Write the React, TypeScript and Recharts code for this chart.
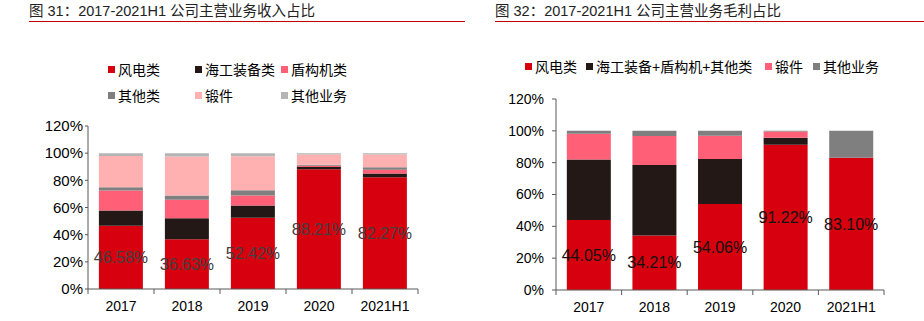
import React from 'react';
import { BarChart, Bar, XAxis, YAxis, LabelList } from 'recharts';

const years = ['2017', '2018', '2019', '2020', '2021H1'];

// Left: revenue share (%)
const windRev = [46.58, 36.63, 52.42, 88.21, 82.27];
const offshoreRev = [11.3, 15.5, 9.1, 1.6, 2.8];
const shieldRev = [14.6, 13.6, 7.3, 1.0, 2.8];
const otherTypeRev = [2.5, 3.1, 3.9, 0.6, 1.7];
const forgingRev = [23.0, 28.7, 25.0, 7.6, 9.5];
const otherBizRev = [2.02, 2.47, 2.28, 0.99, 0.93];

// Right: gross profit share (%)
const windGp = [44.05, 34.21, 54.06, 91.22, 83.1];
const offshoreShieldOtherGp = [37.95, 44.3, 28.3, 4.5, 0];
const forgingGp = [16.2, 18.2, 14.6, 3.8, 0];
const otherBizGp = [1.8, 3.29, 3.04, 0.48, 16.9];

const yTicks = [0, 20, 40, 60, 80, 100, 120];

const C_RED = '#D7000F';
const C_BLACK = '#231815';
const C_PINK = '#FF6077';
const C_GRAY = '#7F7F7F';
const C_LPINK = '#FFB1B1';
const C_LGRAY = '#B4B4B4';

const FONT = '"Liberation Sans", Arial, "Noto Sans CJK SC", sans-serif';

const leftData = years.map((y, i) => ({
  year: y,
  wind: windRev[i],
  offshore: offshoreRev[i],
  shield: shieldRev[i],
  otherType: otherTypeRev[i],
  forging: forgingRev[i],
  otherBiz: otherBizRev[i],
}));

const rightData = years.map((y, i) => ({
  year: y,
  wind: windGp[i],
  offshore: offshoreShieldOtherGp[i],
  forging: forgingGp[i],
  otherBiz: otherBizGp[i],
}));

const makeXTick = (band: number, count: number) => (props: any) => {
  const { x, y, payload, index } = props;
  const half = band / 2;
  return (
    <g>
      <line x1={x - half} y1={y} x2={x - half} y2={y + 5} stroke="#595959" strokeWidth={1} />
      {index === count - 1 && (
        <line x1={x + half} y1={y} x2={x + half} y2={y + 5} stroke="#595959" strokeWidth={1} />
      )}
      <text x={x} y={y + 22} textAnchor="middle" fontSize={14} fill="#000" fontFamily={FONT}>
        {payload.value}
      </text>
    </g>
  );
};

const fmt = (v: any) => Number(v).toFixed(2) + '%';

const LegendItem = ({ color, label, left, top }: any) => (
  <div style={{ position: 'absolute', left, top, display: 'flex', alignItems: 'center', whiteSpace: 'nowrap' }}>
    <div style={{ width: 7, height: 7, background: color, marginRight: 3 }} />
    <span style={{ fontSize: 14, color: '#000', fontFamily: FONT }}>{label}</span>
  </div>
);

const Title = ({ text, left, lineLeft, lineRight }: any) => (
  <>
    <div
      style={{
        position: 'absolute',
        left,
        top: 3,
        fontSize: 14.5,
        color: '#222',
        fontFamily: FONT,
        whiteSpace: 'nowrap',
        lineHeight: '17px',
      }}
    >
      {text}
    </div>
    <div
      style={{
        position: 'absolute',
        left: lineLeft,
        width: lineRight - lineLeft,
        top: 20.5,
        height: 1.2,
        background: '#C00000',
      }}
    />
  </>
);

export default function App() {
  return (
    <div style={{ position: 'absolute', left: 0, top: 0, width: 924, height: 321, background: '#fff', overflow: 'hidden' }}>
      <Title text="图 31：2017-2021H1 公司主营业务收入占比" left={29} lineLeft={29} lineRight={465} />
      <Title text="图 32：2017-2021H1 公司主营业务毛利占比" left={495} lineLeft={495} lineRight={924} />

      <LegendItem color={C_RED} label="风电类" left={108} top={59} />
      <LegendItem color={C_BLACK} label="海工装备类" left={195} top={59} />
      <LegendItem color={C_PINK} label="盾构机类" left={281} top={59} />
      <LegendItem color={C_GRAY} label="其他类" left={108} top={85} />
      <LegendItem color={C_LPINK} label="锻件" left={195} top={85} />
      <LegendItem color={C_LGRAY} label="其他业务" left={281} top={85} />

      <LegendItem color={C_RED} label="风电类" left={525} top={56} />
      <LegendItem color={C_BLACK} label="海工装备+盾构机+其他类" left={586} top={56} />
      <LegendItem color={C_PINK} label="锻件" left={765} top={56} />
      <LegendItem color={C_GRAY} label="其他业务" left={813} top={56} />

      <div style={{ position: 'absolute', left: 0, top: 0 }}>
        <BarChart
          width={470}
          height={321}
          data={leftData}
          margin={{ top: 126, right: 52, bottom: 2, left: 28 }}
          barCategoryGap="16.5%"
        >
          <YAxis
            width={60}
            domain={[0, 120]}
            ticks={yTicks}
            tickFormatter={(v: number) => v + '%'}
            tick={{ fontSize: 15, fill: '#000', fontFamily: FONT }}
            axisLine={{ stroke: '#595959' }}
            tickLine={{ stroke: '#595959' }}
            tickSize={3}
            tickMargin={2}
            interval={0}
          />
          <XAxis
            dataKey="year"
            height={30}
            axisLine={{ stroke: '#595959' }}
            tickLine={false}
            tickSize={0}
            tickMargin={0}
            interval={0}
            tick={makeXTick(66, 5)}
          />
          <Bar dataKey="wind" stackId="a" fill={C_RED} isAnimationActive={false}>
            <LabelList dataKey="wind" position="center" formatter={fmt} fill="#404040" fontSize={16} fontFamily={FONT} />
          </Bar>
          <Bar dataKey="offshore" stackId="a" fill={C_BLACK} isAnimationActive={false} />
          <Bar dataKey="shield" stackId="a" fill={C_PINK} isAnimationActive={false} />
          <Bar dataKey="otherType" stackId="a" fill={C_GRAY} isAnimationActive={false} />
          <Bar dataKey="forging" stackId="a" fill={C_LPINK} isAnimationActive={false} />
          <Bar dataKey="otherBiz" stackId="a" fill={C_LGRAY} isAnimationActive={false} />
        </BarChart>
      </div>

      <div style={{ position: 'absolute', left: 460, top: 0 }}>
        <BarChart
          width={464}
          height={321}
          data={rightData}
          margin={{ top: 99, right: 40, bottom: 1, left: 36 }}
          barCategoryGap="16.5%"
        >
          <YAxis
            width={60}
            domain={[0, 120]}
            ticks={yTicks}
            tickFormatter={(v: number) => v + '%'}
            tick={{ fontSize: 14, fill: '#000', fontFamily: FONT }}
            axisLine={{ stroke: '#595959' }}
            tickLine={{ stroke: '#595959' }}
            tickSize={4}
            tickMargin={8}
            interval={0}
          />
          <XAxis
            dataKey="year"
            height={30}
            axisLine={{ stroke: '#595959' }}
            tickLine={false}
            tickSize={0}
            tickMargin={0}
            interval={0}
            tick={makeXTick(65.6, 5)}
          />
          <Bar dataKey="wind" stackId="b" fill={C_RED} isAnimationActive={false}>
            <LabelList dataKey="wind" position="center" formatter={fmt} fill="#111" fontSize={16} fontFamily={FONT} />
          </Bar>
          <Bar dataKey="offshore" stackId="b" fill={C_BLACK} isAnimationActive={false} />
          <Bar dataKey="forging" stackId="b" fill={C_PINK} isAnimationActive={false} />
          <Bar dataKey="otherBiz" stackId="b" fill={C_GRAY} isAnimationActive={false} />
        </BarChart>
      </div>
    </div>
  );
}
